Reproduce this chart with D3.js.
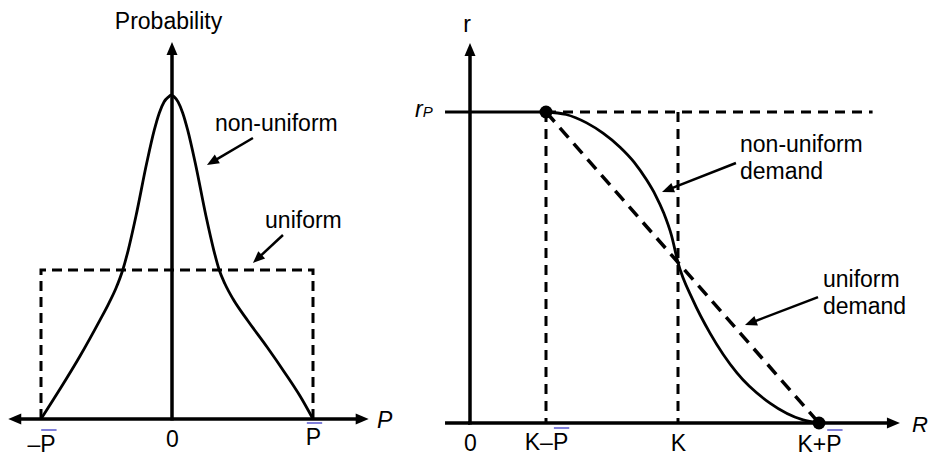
<!DOCTYPE html>
<html><head><meta charset="utf-8">
<script src="https://cdn.jsdelivr.net/npm/d3@7"></script>
<style>
html,body{margin:0;padding:0;background:#fff;}
svg{display:block;font-family:"Liberation Sans",Arial,Helvetica,sans-serif;}
</style></head><body>
<svg id="chart" width="930" height="457"></svg>
<script>
// ---------------- data (left panel: demand distribution) ----------------
const densityP = [-1, -0.855, -0.702, -0.550, -0.489, -0.427, -0.376, -0.334, -0.275, -0.193, -0.135, -0.097, -0.061, -0.023, -0.008,
                  0.014, 0.043, 0.076, 0.111, 0.165, 0.241, 0.296, 0.335, 0.376, 0.433, 0.539, 0.674, 0.801, 0.908, 1];
const densityNonUniform = [0, 0.201, 0.423, 0.664, 0.765, 0.879, 1.0, 1.134, 1.362, 1.718, 1.940, 2.054, 2.128, 2.164, 2.174,
                  2.164, 2.128, 2.054, 1.940, 1.718, 1.362, 1.134, 1.0, 0.906, 0.805, 0.658, 0.483, 0.309, 0.154, 0];
const densityUniformP = [-1, -1, 1, 1];
const densityUniform = [0, 1, 1, 0];
const leftTickValues = [-1, 0, 1];
const leftTickLabels = ["\u2013P", "0", "P"];
const leftTickBar = [true, false, true];

// ---------------- data (right panel: r versus R) ----------------
const demandR = [0.56, 0.712, 0.868, 0.992, 1.121, 1.227, 1.323, 1.389, 1.452, 1.510, 1.56, 1.666, 1.787, 1.978, 2.212, 2.447, 2.56];
const demandNonUniform = [1.0, 0.992, 0.965, 0.932, 0.887, 0.839, 0.781, 0.733, 0.675, 0.604, 0.516, 0.395, 0.289, 0.161, 0.064, 0.010, 0];
const demandUniformR = [0.56, 2.56];
const demandUniform = [1, 0];
const rightTickValues = [0, 0.56, 1.56, 2.56];
const rightTickLabels = ["0", "K\u2013P", "K", "K+P"];
const rightTickBar = [false, true, false, true];
const rP = 1;
const kMinus = 0.56, kValue = 1.56, kPlus = 2.56;

// ---------------- layout ----------------
const FONT = 23;
const svg = d3.select("#chart");
const xL = d3.scaleLinear().domain([-1, 0, 1]).range([41, 172, 313]);
const yL = d3.scaleLinear().domain([0, 1]).range([419, 270]);
const xR = d3.scaleLinear().domain([0, 0.56, 1.56, 2.56]).range([470, 546, 678, 819]);
const yR = d3.scaleLinear().domain([0, 1]).range([423, 112]);

const leftXExtent = [-1.25, 1.395], leftYTop = 2.53;
const rightXExtent = [-0.184, 3.134], rightYTop = 1.222, rPDashEnd = 2.94;
const leftLabelBase = [33, 28, 26];
const rightLabelBase = [28, 27, 28, 29];

function arrow(g, x1, y1, x2, y2, len, half, width) {
  const a = Math.atan2(y2 - y1, x2 - x1), c = Math.cos(a), s = Math.sin(a);
  const bx = x2 - len * c, by = y2 - len * s;
  g.append("line").attr("x1", x1).attr("y1", y1)
    .attr("x2", bx + len * 0.4 * c).attr("y2", by + len * 0.4 * s)
    .attr("stroke", "#000").attr("stroke-width", width);
  g.append("path").attr("d", `M${x2},${y2}L${bx - half * s},${by + half * c}L${bx + half * s},${by - half * c}Z`)
    .attr("fill", "#000");
}

function styleAxis(g, labels, bars, bases) {
  g.select(".domain").remove();
  g.attr("font-size", FONT).attr("font-family", null);
  g.selectAll(".tick text").each(function (d, i) {
    const t = d3.select(this);
    t.attr("y", bases[i]).attr("dy", 0).attr("fill", "#000");
    if (bars[i]) {
      const idx = labels[i].length - 1;
      const ext = this.getExtentOfChar(idx);
      d3.select(this.parentNode).append("line")
        .attr("x1", ext.x + 1).attr("x2", ext.x + ext.width + 1)
        .attr("y1", bases[i] - 22).attr("y2", bases[i] - 22)
        .attr("stroke", "#5555cc").attr("stroke-width", 1.5);
    }
  });
}

// ================= LEFT PANEL =================
const gl = svg.append("g");
gl.append("path")
  .datum(densityUniformP.map((p, i) => [p, densityUniform[i]]))
  .attr("d", d3.line().x(d => xL(d[0])).y(d => yL(d[1])))
  .attr("fill", "none").attr("stroke", "#000").attr("stroke-width", 3)
  .attr("stroke-dasharray", "10,6");
gl.append("path")
  .datum(densityP.map((p, i) => [p, densityNonUniform[i]]))
  .attr("d", d3.line().x(d => xL(d[0])).y(d => yL(d[1])).curve(d3.curveMonotoneX))
  .attr("fill", "none").attr("stroke", "#000").attr("stroke-width", 2.8);
arrow(gl, xL(0), yL(0), xL(leftXExtent[1]), yL(0), 13, 5.5, 3.5);
arrow(gl, xL(0), yL(0), xL(leftXExtent[0]), yL(0), 13, 5.5, 3.5);
arrow(gl, xL(0), yL(0) + 1.5, xL(0), yL(leftYTop), 13, 5.5, 3.5);
gl.append("g").attr("transform", `translate(0,${yL(0)})`)
  .call(d3.axisBottom(xL).tickValues(leftTickValues).tickSize(0).tickFormat((d, i) => leftTickLabels[i]))
  .call(g => styleAxis(g, leftTickLabels, leftTickBar, leftLabelBase));
gl.append("text").attr("x", xL(0) - 3.5).attr("y", 29).attr("text-anchor", "middle")
  .attr("font-size", FONT).text("Probability");
gl.append("text").attr("x", 377).attr("y", 428).attr("font-size", FONT).attr("font-style", "italic").text("P");
gl.append("text").attr("x", xL(0.305)).attr("y", yL(1.933)).attr("font-size", FONT).text("non-uniform");
arrow(gl, xL(0.574), yL(1.886), xL(0.248), yL(1.705), 12, 5, 2.5);
gl.append("text").attr("x", xL(0.66)).attr("y", yL(1.282)).attr("font-size", FONT).text("uniform");
arrow(gl, xL(0.787), yL(1.235), xL(0.574), yL(1.047), 12, 5, 2.5);

// ================= RIGHT PANEL =================
const gr = svg.append("g");
const dash = (x1, y1, x2, y2, w, da) => gr.append("line").attr("x1", x1).attr("y1", y1).attr("x2", x2).attr("y2", y2)
  .attr("stroke", "#000").attr("stroke-width", w).attr("stroke-dasharray", da);
dash(xR(kMinus), yR(rP), xR(rPDashEnd), yR(rP), 3, "10,7");
dash(xR(kMinus), yR(rP), xR(kMinus), yR(0), 3, "10,7");
dash(xR(kValue), yR(rP), xR(kValue), yR(0), 3, "10,7");
gr.append("path")
  .datum(demandUniformR.map((r, i) => [r, demandUniform[i]]))
  .attr("d", d3.line().x(d => xR(d[0])).y(d => yR(d[1])))
  .attr("fill", "none").attr("stroke", "#000").attr("stroke-width", 3.5).attr("stroke-dasharray", "13,8");
gr.append("path")
  .datum(demandR.map((r, i) => [r, demandNonUniform[i]]))
  .attr("d", d3.line().x(d => xR(d[0])).y(d => yR(d[1])).curve(d3.curveMonotoneX))
  .attr("fill", "none").attr("stroke", "#000").attr("stroke-width", 2.8);
gr.append("line").attr("x1", xR(rightXExtent[0])).attr("x2", xR(kMinus)).attr("y1", yR(rP)).attr("y2", yR(rP))
  .attr("stroke", "#000").attr("stroke-width", 3);
gr.append("line").attr("x1", xR(rightXExtent[0])).attr("x2", xR(0)).attr("y1", yR(0)).attr("y2", yR(0))
  .attr("stroke", "#000").attr("stroke-width", 3.5);
arrow(gr, xR(0) - 2, yR(0), xR(rightXExtent[1]), yR(0), 13, 5.5, 3.5);
arrow(gr, xR(0), yR(0) + 1.5, xR(0), yR(rightYTop), 13, 5.5, 3.5);
gr.selectAll("circle.end").data([[kMinus, rP], [kPlus, 0]]).join("circle")
  .attr("cx", d => xR(d[0])).attr("cy", d => yR(d[1])).attr("r", 6.5).attr("fill", "#000");
gr.append("g").attr("transform", `translate(0,${yR(0)})`)
  .call(d3.axisBottom(xR).tickValues(rightTickValues).tickSize(0).tickFormat((d, i) => rightTickLabels[i]))
  .call(g => styleAxis(g, rightTickLabels, rightTickBar, rightLabelBase));
gr.append("text").attr("x", xR(0) - 3).attr("y", 32).attr("text-anchor", "middle").attr("font-size", FONT).text("r");
gr.append("text").attr("x", 912).attr("y", 432).attr("font-size", 22).attr("font-style", "italic").text("R");
const rpLabel = gr.append("text").attr("x", 415).attr("y", 117).attr("font-size", FONT).attr("font-style", "italic");
rpLabel.append("tspan").text("r");
rpLabel.append("tspan").attr("font-size", 15).attr("dy", 0).text("P");
const t1 = gr.append("text").attr("x", xR(2.0)).attr("y", yR(0.871)).attr("font-size", FONT);
t1.append("tspan").text("non-uniform");
t1.append("tspan").attr("x", xR(2.0)).attr("dy", 26.5).text("demand");
arrow(gr, xR(1.971), yR(0.836), xR(1.439), yR(0.743), 12, 5, 2.5);
const t2 = gr.append("text").attr("x", xR(2.588)).attr("y", yR(0.437)).attr("font-size", FONT);
t2.append("tspan").text("uniform");
t2.append("tspan").attr("x", xR(2.588)).attr("dy", 26.5).text("demand");
arrow(gr, xR(2.553), yR(0.405), xR(2.035), yR(0.315), 12, 5, 2.5);
</script>
</body></html>
